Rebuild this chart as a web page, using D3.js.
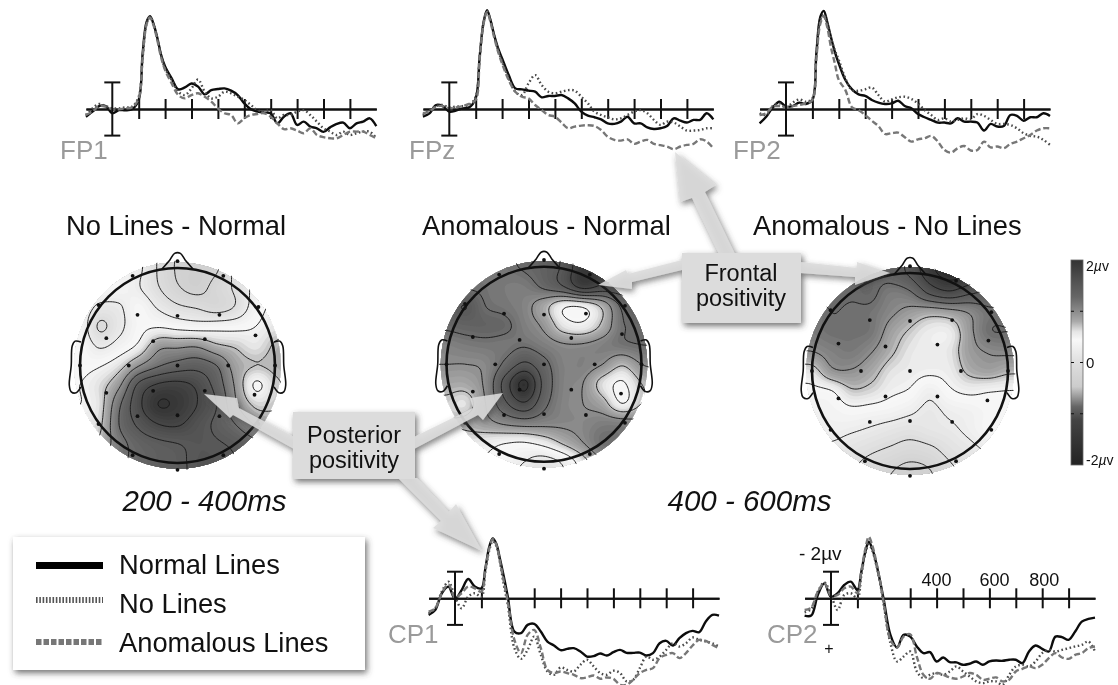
<!DOCTYPE html>
<html><head><meta charset="utf-8">
<script src="https://cdn.jsdelivr.net/npm/d3@7"></script>
<style>
html,body{margin:0;padding:0;background:#fff;overflow:hidden}
svg{display:block;filter:blur(0.45px)}
text{font-family:"Liberation Sans",Arial,sans-serif}
</style></head><body>
<svg id="c" width="1118" height="685" viewBox="0 0 1118 685"></svg>
<script>
// ---------- ERP data (ms, µV; negative is drawn upward) ----------
const times=[-100,-75,-50,-25,0,25,50,75,100,115,130,143,156,170,185,200,225,250,275,300,325,350,375,400,425,450,475,500,525,550,575,600,625,650,675,700,725,750,775,800,825,850,875,900,925,950,975,1000];
const fp1Normal=[.58,.2,-.22,-.22,.32,.08,.1,.02,-.68,-4.2,-6.55,-6.98,-6.4,-5.4,-4.05,-3.2,-2.3,-1.48,-1.62,-1.92,-1.68,-1.1,-1.42,-1.5,-1.55,-1.38,-1.05,-.42,.02,.2,.28,.32,1.08,.58,.32,1.2,.95,1.32,1.45,1.72,1.38,1.12,1.02,1.45,1.08,.95,.7,1.28];
const fp1NoLines=[.45,-.05,-.38,-.22,-.05,-.05,-.12,-.18,-.92,-3.92,-6.42,-6.92,-6.38,-5.38,-3.98,-3.05,-2.18,-1.3,-1.05,-1.55,-2.22,-1.3,-.8,-.92,-1.3,-1.18,-.92,-.68,-.3,.08,.2,.08,.7,.45,.45,.2,.08,.45,.95,1.45,1.7,1.95,1.7,1.95,1.82,1.7,1.7,2.2];
const fp1Anomalous=[.45,.2,-.22,-.18,.02,.02,-.05,-.12,-.8,-3.92,-6.38,-6.88,-6.3,-5.22,-3.88,-2.92,-1.92,-1.05,-.8,-1.05,-1.18,-.92,-.55,-.05,.32,.45,1.08,.7,.45,.38,.32,.58,1.08,1.52,1.45,1.62,1.82,1.45,1.95,2.12,2.2,2.2,1.95,1.7,1.7,1.7,1.95,2.2];
const fpzNormal=[.58,.33,-.3,-.22,.2,.12,-.05,-.12,-.8,-3.92,-6.55,-7.42,-6.68,-5.55,-4.55,-3.8,-2.55,-1.55,-1.48,-1.38,-1.3,-.88,-.98,-.98,-1.05,-.8,-.42,.2,.5,.62,.78,1.08,1.12,.95,.58,1.08,1.08,1.38,1.5,1.45,1.28,.7,.88,1.02,.82,.82,.32,.78];
const fpzNoLines=[.45,.08,-.22,-.3,-.12,-.18,-.22,-.3,-.92,-3.92,-6.48,-7.35,-6.62,-5.48,-4.42,-3.55,-2.3,-1.3,-1.05,-1.92,-2.55,-1.8,-1.3,-1.18,-1.3,-1.42,-1.38,-.92,-.42,.2,.45,.62,.78,.7,.45,.2,.08,.32,.82,1.2,.95,1.02,1.32,1.62,1.62,1.58,1.45,1.45];
const fpzAnomalous=[.32,.2,-.18,-.22,-.05,-.12,-.22,-.38,-.68,-3.8,-6.42,-7.3,-6.55,-5.38,-4.3,-3.42,-2.18,-1.3,-.92,-.8,-.3,.08,.45,.58,1.02,1.45,1.32,1.25,1.22,1.28,1.58,2.08,2.32,2.38,2.28,2.62,2.45,2.32,2.62,2.72,2.82,3.02,2.82,2.7,2.62,2.28,2.45,2.95];
const fp2Normal=[1.08,.58,-.12,-.55,-.18,-.22,-.48,-.38,-.68,-4.18,-6.92,-7.38,-6.55,-5.42,-4.3,-3.42,-2.18,-1.48,-1.1,-.98,-.68,-.48,-.38,-.42,-.62,-.22,-.05,.38,.62,.82,1.02,1.02,1.08,.7,.95,.95,1.02,1.62,1.12,1.32,1.28,.45,.52,.88,.62,.62,.32,.52];
const fp2NoLines=[.32,.45,-.22,-.42,-.12,-.48,-.72,-.55,-.8,-4.05,-6.68,-7.12,-6.42,-5.38,-4.42,-3.68,-2.3,-1.42,-1.38,-1.48,-1.62,-1.05,-.55,-.72,-.88,-.92,-.75,-.42,.08,.45,.82,.7,.95,.82,.7,.78,.38,.52,.82,1.12,1.12,1.2,1.45,1.82,2.02,2.08,2.32,2.7];
const fp2Anomalous=[.45,.32,-.18,-.22,-.12,-.22,-.3,-.42,-.68,-3.8,-6.42,-6.98,-6.18,-4.68,-3.42,-2.18,-1.42,-.12,.08,.45,.88,1.28,1.88,1.82,1.78,2.12,2.45,2.28,2.2,2.02,2.45,3.08,3.28,2.95,2.78,3.12,3.08,2.45,2.88,2.82,2.95,2.62,2.45,2.2,1.95,1.62,1.45,1.45];
const cp1Normal=[1.25,.88,-.38,-.88,.05,-.62,-1.45,-.88,-.75,-2.25,-3.88,-4.5,-4.12,-3,-1.62,-.12,2.5,2.62,2,1.92,2.5,3.25,3.55,3.9,3.8,3.75,4,4.38,4.35,4.15,4.3,4.05,3.88,4.1,4.1,4.08,4.3,4.12,3.38,3.2,3.55,3,2.62,2.45,2.55,1.75,1.25,1.3];
const cp1NoLines=[1.12,.75,-.5,-1.25,-.12,.75,-.12,-.38,-.12,-2,-3.62,-4.3,-3.95,-2.75,-1,.5,3.75,4.55,3.88,2.88,4.25,5.5,5.75,5.2,5.38,5.5,5,4.62,5.12,5.62,5.75,5.45,5.62,6.25,6.12,5.25,4.38,4.62,4.38,3.88,3.38,3.62,3.38,2.95,3.12,3.25,3.38,3.62];
const cp1Anomalous=[1,.75,-.38,-1.05,-.05,-.38,-.88,-.75,-.5,-2.12,-3.75,-4.45,-4.05,-2.8,-1.25,.25,3.12,4.12,2.75,2.38,3.75,5.38,5.62,5.5,5.62,5.75,6,5.95,5.8,6.05,5.95,6.05,6.5,6.5,6.12,5.62,5.38,5.25,4.5,4.25,4.12,4.5,4.12,3.55,3.12,3.2,3.5,3.75];
const cp2Normal=[1.3,1.3,-.25,-1.12,-.12,-.38,-1,-1.25,-.62,-2,-3.5,-4.25,-3.75,-2.75,-1.38,.12,2.75,3.7,2.75,2.88,3.62,4.12,4.05,4.75,4.45,4.8,4.82,5,4.92,4.75,5,4.75,4.68,4.7,4.62,4.62,4.88,4,3.55,3.8,4,2.88,2.92,3.12,2.5,1.75,1.55,1.45];
const cp2NoLines=[1.05,.8,-.5,-1.2,-.25,.88,-.25,-.38,0,-1.75,-3.38,-4.05,-3.62,-2.62,-1.25,.5,3.38,4.75,4.38,4,5.5,6,5.75,5.62,5.75,5.5,5.12,5.5,5.88,6.25,6.38,6.25,6.25,6.5,5.75,5.12,5,5.12,4.75,4.12,3.88,4,3.88,3.75,3.62,3.5,3.25,4];
const cp2Anomalous=[.88,.7,-.5,-1.12,-.2,-.25,-.75,-.88,-.38,-2.05,-3.7,-4.62,-4,-2.88,-1.38,.38,3.12,3.7,2.88,2.7,4.38,5.75,6.05,5.62,5.75,5.95,6.05,5.88,5.62,5.75,6.12,6.05,5.95,6.25,6.12,5.5,5.3,5.12,5.25,5,4.5,4.12,4.45,4.55,4.25,4.12,3.75,3.62];
const fpTicks=[100,200,300,400,500,600,700,800,900];
const cpTicks=[100,300,400,500,600,700,800,900];
const cp2TickLabels=[[400,"400"],[600,"600"],[800,"800"]];

// ---------- scalp map data: µV on a 13 x 13 grid over the head (-1.2 … 1.2 head radii) ----------
const mapNoLinesNormal=[
[.35,.35,.35,.35,.3,0,-.25,-.3,-.25,.1,.3,.35,.35],
[.35,.35,.35,.35,.3,-.02,-.28,-.35,-.28,.08,.3,.35,.35],
[.4,.4,.42,.4,.27,.02,-.22,-.34,-.15,.05,.32,.42,.42],
[.45,.42,.2,.22,.42,.22,.05,-.03,-.12,.03,.38,.55,.55],
[.42,.42,-.03,.18,.42,.48,.42,.38,.4,.42,.5,.62,.65],
[.45,.45,.22,.35,.55,.92,.95,.97,.8,.72,.62,.78,.85],
[.45,.45,.48,.65,.98,1.22,1.35,1.4,1.25,.88,.75,.8,.85],
[.5,.5,.65,.95,1.55,1.78,1.82,1.7,1.4,.95,.47,.7,.8],
[.5,.5,.65,1.2,1.68,2,1.95,1.75,1.5,1.03,.7,.72,.75],
[.55,.6,.7,1.25,1.55,1.75,1.78,1.62,1.45,1.24,.97,.85,.85],
[.7,.7,.8,1.15,1.35,1.45,1.5,1.55,1.52,1.45,1.3,1.1,1],
[.9,.9,1,1.2,1.3,1.4,1.45,1.55,1.55,1.5,1.35,1.2,1.1],
[.9,.9,1,1.2,1.3,1.38,1.45,1.55,1.55,1.5,1.35,1.2,1.1]];
const mapAnomalousNormal=[
[1.2,1.2,1.2,1.2,1.2,1.3,1.35,1.5,1.8,1.9,1.75,1.6,1.6],
[1.2,1.2,1.2,1.2,1.2,1.28,1.38,1.55,1.95,1.9,1.7,1.6,1.6],
[1.25,1.25,1.22,1.2,1.15,1.15,1.3,1.5,1.85,1.7,1.65,1.5,1.5],
[1.4,1.4,1.5,1.25,1.18,1.08,.85,.55,.55,.82,1.3,1.45,1.45],
[1.3,1.3,1.35,1.35,1.3,1.12,.95,.62,.55,.8,1.22,1.3,1.3],
[1.1,1.1,1.15,1.18,1.18,1.22,1.12,1.02,1.02,1.1,1.2,1.25,1.25],
[1,1,1,1.05,1.3,1.55,1.32,1.1,1.1,1,.78,1,1.05],
[.85,.85,.85,1.05,1.6,2.05,1.42,1.1,1,.65,.47,.75,.85],
[.7,.7,.65,1,1.45,1.72,1.32,1.08,1,.85,.5,.75,.85],
[.75,.75,.8,.92,1.05,1.12,1.08,1.05,1.05,1.12,1.1,1.05,1.05],
[.6,.6,.62,.58,.52,.5,.6,.8,1,1.22,1.18,1.1,1.1],
[.5,.5,.5,.48,.4,.25,.15,.3,.65,1,1,1,1],
[.5,.5,.5,.45,.35,.15,.1,.25,.6,1,1,1,1]];
const mapAnomalousNoLines=[
[1.3,1.3,1.3,1.3,1.3,1.32,1.55,1.9,2.1,2,1.7,1.5,1.5],
[1.3,1.3,1.3,1.3,1.3,1.35,1.55,1.9,2.1,2,1.7,1.5,1.5],
[1.3,1.3,1.3,1.28,1.3,1.15,1.22,1.55,1.7,1.55,1.45,1.4,1.4],
[1.15,1.15,1.25,1.22,1.2,1.05,.92,.85,.9,1.02,1.2,1.2,1.2],
[1.1,1.15,1.22,1.22,1.18,.9,.72,.58,.58,.92,1.22,1.25,1.25],
[1,1,1.1,1.15,1.02,.8,.62,.56,.62,.9,1.02,1.05,1.05],
[.65,.65,.95,.98,.85,.65,.58,.54,.58,.8,.88,.8,.8],
[.45,.45,.5,.72,.68,.55,.48,.32,.47,.55,.52,.5,.5],
[.35,.35,.38,.45,.42,.38,.3,.2,.3,.35,.42,.42,.42],
[.3,.3,.32,.28,.22,.15,.1,.15,.2,.3,.42,.4,.4],
[.2,.2,.2,.12,.04,-.03,-.1,-.05,.08,.18,.28,.3,.3],
[.1,.1,.1,.02,-.1,-.22,-.32,-.25,-.05,.08,.2,.25,.25],
[.1,.1,.1,0,-.12,-.28,-.4,-.3,-.1,.05,.2,.25,.25]];
const contourLevels=[-.5,-.25,0,.25,.5,.75,1,1.25,1.5,1.75,2];
const electrodeX=[0,0,-.41,0,.43,.8,-.73,-.25,.28,-.5,0,.52,-.73,-.25,.28,.79,-.41,0,.43,-1,1,-.81,-.46,.47,.83,-.81,-.46,.47,.83];
const electrodeY=[-1.07,1.07,-.52,-.51,-.52,-.31,-.28,-.25,-.27,0,0,0,.28,.26,.26,.3,.52,.51,.52,0,0,-.62,-.92,-.92,-.6,.6,.92,.92,.6];
const noseX=[-.16,-.08,-.03,.03,.08,.16], noseY=[-.99,-1.08,-1.15,-1.15,-1.08,-.99];
const earX=[.99,1.05,1.08,1.09,1.11,1.09,1.04,.99], earY=[-.24,-.25,-.2,0,.2,.27,.28,.22];
// colour bar stops: µV -> grey
const barValues=[-2,-1.12,-.86,-.67,-.47,-.02,.44,.6,.8,1.02,1.28,1.54,2,2.3];
const barGreys=["#222","#444","#666","#999","#ccc","#ddd","#f8f8f8","#e6e6e6","#aaa","#888","#666","#555","#333","#151515"];
const barTicks=[1,0,-1];

const svg=d3.select("#c");
const defs=svg.append("defs");
const shadow=defs.append("filter").attr("id","sh").attr("x","-20%").attr("y","-20%").attr("width","150%").attr("height","150%");
shadow.append("feDropShadow").attr("dx",2).attr("dy",3).attr("stdDeviation",3).attr("flood-color","#444").attr("flood-opacity",.75);
svg.append("rect").attr("width",1118).attr("height",685).attr("fill","#fff");

const grey=d3.scaleLinear().domain(barValues).range(barGreys).clamp(true);

// ---------- upsample a grid (Catmull-Rom) ----------
function upsample(g,f){
  const n=g.length,N=(n-1)*f+1,out=new Array(N*N);
  const at=(i,j)=>g[Math.max(0,Math.min(n-1,j))][Math.max(0,Math.min(n-1,i))];
  const cr=(a,b,c,d,t)=>.5*(2*b+(c-a)*t+(2*a-5*b+4*c-d)*t*t+(3*b-a-3*c+d)*t*t*t);
  for(let y=0;y<N;y++){const jf=y/f,j=Math.min(n-2,Math.floor(jf)),tj=jf-j;
    for(let x=0;x<N;x++){const kf=x/f,i=Math.min(n-2,Math.floor(kf)),ti=kf-i;
      const r=[-1,0,1,2].map(d=>cr(at(i-1,j+d),at(i,j+d),at(i+1,j+d),at(i+2,j+d),ti));
      out[y*N+x]=cr(r[0],r[1],r[2],r[3],tj);}}
  return {values:out,size:N};
}

// ---------- scalp map ----------
function scalpMap(grid,cx,cy,r,id){
  const g=svg.append("g");
  const hx=d3.scaleLinear([-1,1],[cx-r,cx+r]),hy=d3.scaleLinear([-1,1],[cy-r,cy+r]);
  const {values,size}=upsample(grid,12);
  const gx=d3.scaleLinear([.5,size-.5],[hx(-1.2),hx(1.2)]),gy=d3.scaleLinear([.5,size-.5],[hy(-1.2),hy(1.2)]);
  const path=d3.geoPath(d3.geoTransform({point(x,y){this.stream.point(gx(x),gy(y));}}));
  defs.append("clipPath").attr("id",id).append("circle").attr("cx",cx).attr("cy",cy).attr("r",r*1.06);
  defs.append("clipPath").attr("id",id+"l").append("circle").attr("cx",cx).attr("cy",cy).attr("r",r*1.075);
  const fill=g.append("g").attr("clip-path",`url(#${id})`);
  const fillLevels=d3.range(-.8,2.4,.05);
  fill.append("circle").attr("cx",cx).attr("cy",cy).attr("r",r*1.1).attr("fill",grey(-.8));
  const cg=d3.contours().size([size,size]).smooth(true);
  fill.selectAll("path").data(fillLevels.map(t=>cg.contour(values,t))).join("path")
    .attr("d",path).attr("fill",d=>grey(d.value));
  g.append("g").attr("clip-path",`url(#${id}l)`).selectAll("path")
    .data(contourLevels.map(t=>cg.contour(values,t))).join("path")
    .attr("d",path).attr("fill","none").attr("stroke","#1a1a1a").attr("stroke-width",.95);
  const line=d3.line().x(d=>hx(d[0])).y(d=>hy(d[1])).curve(d3.curveCatmullRom);
  g.append("path").attr("d",line(d3.zip(noseX,noseY))).attr("fill","none").attr("stroke","#111").attr("stroke-width",1.6);
  g.append("path").attr("d",line(d3.zip(earX,earY))).attr("fill","none").attr("stroke","#111").attr("stroke-width",1.6);
  g.append("path").attr("d",line(d3.zip(earX.map(v=>-v),earY))).attr("fill","none").attr("stroke","#111").attr("stroke-width",1.6);
  g.append("circle").attr("cx",cx).attr("cy",cy).attr("r",r).attr("fill","none").attr("stroke","#111").attr("stroke-width",2.6);
  g.selectAll(".e").data(d3.zip(electrodeX,electrodeY)).join("circle")
    .attr("cx",d=>hx(d[0])).attr("cy",d=>hy(d[1])).attr("r",1.9).attr("fill","#111");
}
scalpMap(mapNoLinesNormal,177.5,365.5,97.5,"m1");
scalpMap(mapAnomalousNormal,544,364.3,97.5,"m2");
scalpMap(mapAnomalousNoLines,910,371,98,"m3");

// ---------- ERP panels ----------
function erp(name,t0,base,labelX,labelY,ticks,N,D,A){
  const x=d3.scaleLinear([-100,1000],[t0-26.4,t0+264]);
  const y=d3.scaleLinear([-2,2],[base-26.6,base+26.6]);
  const g=svg.append("g");
  const line=d3.line().x(d=>x(d[0])).y(d=>y(d[1])).curve(d3.curveCatmullRom.alpha(.5));
  g.append("path").attr("d",line(d3.zip(times,N))).attr("fill","none").attr("stroke","#0c0c0c").attr("stroke-width",2.4);
  const ax=g.append("g").attr("transform",`translate(0,${base})`);
  for(const a of [d3.axisBottom(x),d3.axisTop(x)]){
    const s=ax.append("g").call(a.tickValues(ticks).tickSize(10).tickSizeOuter(0).tickFormat(""));
    s.selectAll("path,line").attr("stroke","#111").attr("stroke-width",2);
  }
  g.append("path").attr("d",line(d3.zip(times,D))).attr("fill","none").attr("stroke","#4a4a4a").attr("stroke-width",2.4).attr("stroke-dasharray","1.6,2.6");
  g.append("path").attr("d",line(d3.zip(times,A))).attr("fill","none").attr("stroke","#777").attr("stroke-width",2.4).attr("stroke-dasharray","6,2.8");
  const eb=g.append("g").attr("stroke","#111").attr("stroke-width",2);
  eb.append("line").attr("x1",x(0)).attr("x2",x(0)).attr("y1",y(-2)).attr("y2",y(2));
  for(const v of [-2,2]) eb.append("line").attr("x1",x(0)-8).attr("x2",x(0)+8).attr("y1",y(v)).attr("y2",y(v));
  g.append("text").attr("x",labelX).attr("y",labelY).attr("font-size",26).attr("fill","#9a9a9a").text(name);
  return x;
}
erp("FP1",112.3,109,60,159,fpTicks,fp1Normal,fp1NoLines,fp1Anomalous);
erp("FPz",449.3,109,409,159,fpTicks,fpzNormal,fpzNoLines,fpzAnomalous);
erp("FP2",786,109,733,159,fpTicks,fp2Normal,fp2NoLines,fp2Anomalous);
erp("CP1",455,598.3,388,643,cpTicks,cp1Normal,cp1NoLines,cp1Anomalous);
const xCp2=erp("CP2",831,598.3,767,643,cpTicks,cp2Normal,cp2NoLines,cp2Anomalous);
const labelShift={400:0,600:5,800:2};
svg.selectAll(".l").data(cp2TickLabels).join("text").attr("x",d=>xCp2(d[0])+labelShift[d[0]]).attr("y",586).attr("text-anchor","middle").attr("font-size",18).attr("fill","#111").text(d=>d[1]);
svg.append("text").attr("x",799).attr("y",560).attr("font-size",19).attr("fill","#111").text("- 2µv");
svg.append("text").attr("x",829).attr("y",654).attr("font-size",16).attr("fill","#111").attr("text-anchor","middle").text("+");

// ---------- titles ----------
const titles=[["No Lines - Normal",66,235,"start",""],["Anomalous - Normal",422,235,"start",""],["Anomalous - No Lines",753,235,"start",""],["200 - 400ms",204.5,511,"middle","italic"],["400 - 600ms",749.5,511,"middle","italic"]];
svg.selectAll(".t").data(titles).join("text").attr("x",d=>d[1]).attr("y",d=>d[2]).attr("text-anchor",d=>d[3]).attr("font-style",d=>d[4]).attr("font-size",d=>d[4]?29.5:27.3).attr("fill","#111").text(d=>d[0]);

// ---------- callouts ----------
const callG=svg.append("g").attr("filter","url(#sh)");
const arrows=[
 "719,254 692,198 680,202 675,152 716,185 705,192 735,254",
 "682,260 628,274 626,270 598,285 632,289 632,282 682,270",
 "800,262 857,268 857,262 890,273 855,285 855,277 800,273",
 "294,437 239,408 237,398 204,394 230,418 233,415 294,449",
 "414,437 473,408 470,398 503,393 483,420 478,415 414,449",
 "398,478 441,521 433,528 482,551 456,504 449,512 417,478"
];
callG.selectAll("polygon").data(arrows).join("polygon").attr("points",d=>d).attr("fill","#dcdcdc").attr("fill-opacity",.88);
const boxes=[[682,253,119,70,"Frontal","positivity",741,281,306],[293,412,122,67,"Posterior","positivity",354,442.5,467.5]];
callG.selectAll("rect").data(boxes).join("rect").attr("x",d=>d[0]).attr("y",d=>d[1]).attr("width",d=>d[2]).attr("height",d=>d[3]).attr("fill","#dcdcdc");
for(const b of boxes){
  svg.append("text").attr("x",b[6]).attr("y",b[7]).attr("text-anchor","middle").attr("font-size",23.5).attr("fill","#111").text(b[4]);
  svg.append("text").attr("x",b[6]).attr("y",b[8]).attr("text-anchor","middle").attr("font-size",23.5).attr("fill","#111").text(b[5]);
}

// ---------- legend ----------
svg.append("rect").attr("x",13).attr("y",537).attr("width",352).attr("height",133).attr("fill","#fff").attr("filter","url(#sh)");
const legendNames=["Normal Lines","No Lines","Anomalous Lines"];
const legendY=d3.scalePoint().domain(legendNames).range([574,652]);
const legendStyle={"Normal Lines":["#000",7,"none",565.5],"No Lines":["#555",6,"1.6,1.7",600],"Anomalous Lines":["#777",6,"5.5,2",642]};
for(const n of legendNames){
  svg.append("line").attr("x1",36).attr("x2",103).attr("y1",legendStyle[n][3]).attr("y2",legendStyle[n][3]).attr("stroke",legendStyle[n][0]).attr("stroke-width",legendStyle[n][1]).attr("stroke-dasharray",legendStyle[n][2]);
  svg.append("text").attr("x",119).attr("y",legendY(n)).attr("font-size",27.3).attr("fill","#111").text(n);
}

// ---------- colour bar ----------
const by=d3.scaleLinear([2,-2],[260,465]);
const grad=defs.append("linearGradient").attr("id","bar").attr("x1",0).attr("x2",0).attr("y1",0).attr("y2",1);
grad.selectAll("stop").data(barValues.filter(v=>v<=2).reverse()).join("stop").attr("offset",d=>(2-d)/4).attr("stop-color",d=>grey(d));
svg.append("rect").attr("x",1071).attr("y",by(2)).attr("width",12).attr("height",by(-2)-by(2)).attr("fill","url(#bar)").attr("stroke","#666").attr("stroke-width",.8);
for(const v of barTicks){
  svg.append("line").attr("x1",1071).attr("x2",1074).attr("y1",by(v)).attr("y2",by(v)).attr("stroke","#111");
  svg.append("line").attr("x1",1080).attr("x2",1083).attr("y1",by(v)).attr("y2",by(v)).attr("stroke","#111");
}
const barLab=(y,a,b,size)=>{const t=svg.append("text").attr("x",1086).attr("y",y).attr("font-size",size).attr("fill","#111").text(a);
  if(b){t.append("tspan").attr("font-style","italic").text("µ");t.append("tspan").text("v");}};
barLab(271,"2",true,14);barLab(368,"0",false,15);barLab(465,"-2",true,14);
</script>
</body></html>
